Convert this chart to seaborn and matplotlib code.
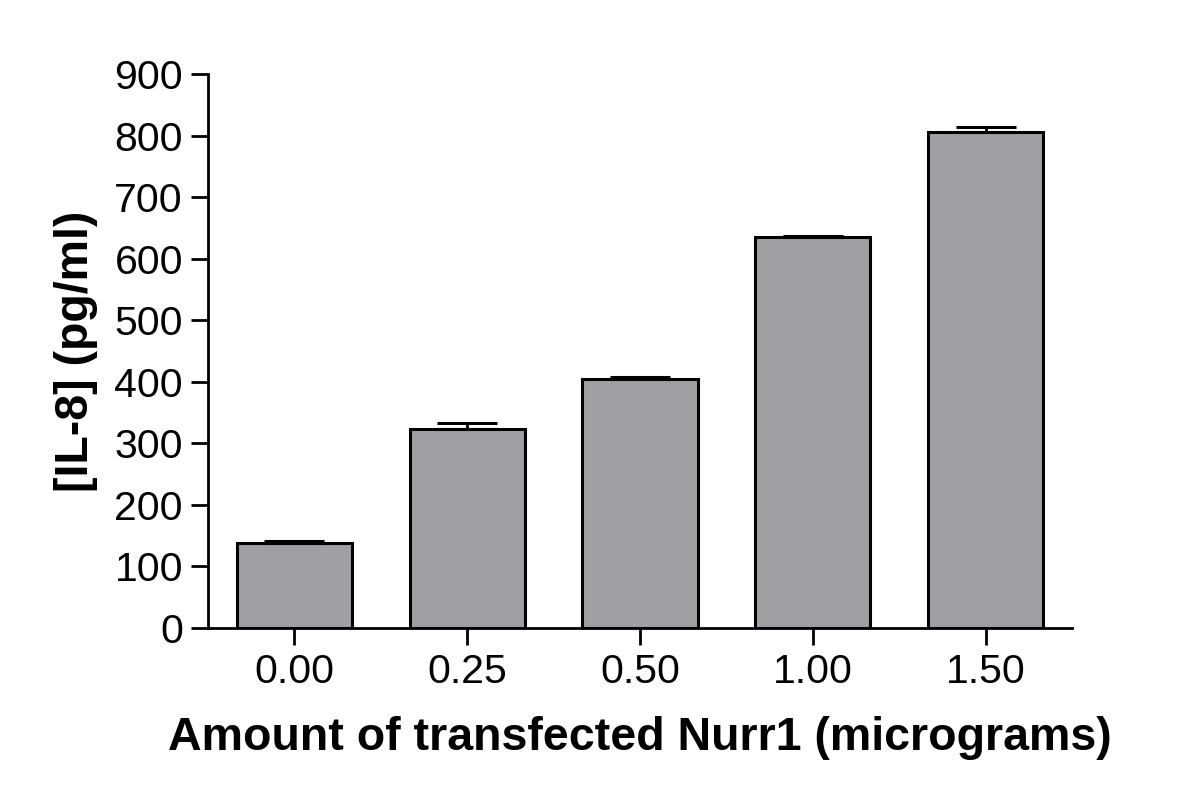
import pandas as pd
import matplotlib.pyplot as plt
import seaborn as sns

# Valores
doses = ['0.00', '0.25', '0.50', '1.00', '1.50']
il8 = [138, 323, 404, 635, 806]
erro = [3, 10, 3, 2, 8]

df = pd.DataFrame({'dose': doses, 'il8': il8})

sns.set_style('ticks')
plt.rcParams['font.family'] = ['Liberation Sans', 'DejaVu Sans']

fig = plt.figure(figsize=(12, 8), dpi=100)
ax = fig.add_axes([0.1733, 0.215, 0.72, 0.6925])

sns.barplot(data=df, x='dose', y='il8', color='#a19fa4', saturation=1,
            width=0.667, edgecolor='black', linewidth=2.2, errorbar=None, ax=ax)

# barras de erro só para cima
ax.errorbar(range(len(doses)), il8, yerr=[[0] * len(erro), erro], fmt='none',
            ecolor='black', elinewidth=2, capsize=21.5, capthick=2.2, zorder=1)

ax.set_xlim(-0.5, 4.5)
ax.set_ylim(0, 900)
ax.set_yticks(range(0, 901, 100))
ax.set_xlabel('Amount of transfected Nurr1 (micrograms)', fontsize=33.5,
              fontweight='bold', labelpad=18, color='black')
ax.set_ylabel('[IL-8] (pg/ml)', fontsize=33.5, fontweight='bold', labelpad=12,
              color='black')
ax.tick_params(axis='both', labelsize=29.5, length=12, width=2, direction='out',
               color='black', labelcolor='black', pad=6)
sns.despine(ax=ax)
for s in ['left', 'bottom']:
    ax.spines[s].set_linewidth(2)
    ax.spines[s].set_color('black')

plt.savefig('out.png', dpi=100)
